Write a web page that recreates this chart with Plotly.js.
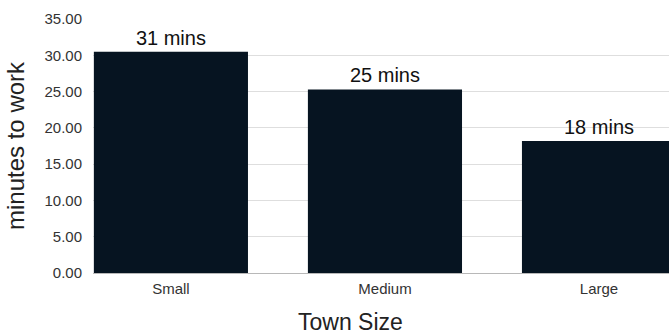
<!DOCTYPE html>
<html>
<head>
<meta charset="utf-8">
<script src="https://cdn.plot.ly/plotly-3.0.1.min.js"></script>
<style>
  html, body { margin: 0; padding: 0; background: #ffffff; }
  #chart { width: 669px; height: 334px; }
</style>
</head>
<body>
<div id="chart"></div>
<script>
// Average commute time by town size
const townSizes = ["Small", "Medium", "Large"];
const minutesToWork = [30.5, 25.3, 18.2];
const barLabels = minutesToWork.map(v => Math.round(v) + " mins");

const trace = {
  type: "bar",
  x: townSizes,
  y: minutesToWork,
  text: barLabels,
  textposition: "outside",
  textfont: { family: "Liberation Sans, Arial, sans-serif", size: 20, color: "#111111" },
  cliponaxis: false,
  marker: { color: "#061421" },
  hoverinfo: "skip"
};

const layout = {
  width: 669,
  height: 334,
  margin: { l: 93, r: 0, t: 19, b: 61 },
  paper_bgcolor: "#ffffff",
  plot_bgcolor: "#ffffff",
  showlegend: false,
  bargap: 0.28,
  font: { family: "Liberation Sans, Arial, sans-serif", color: "#333333" },
  xaxis: {
    range: [-0.364, 2.327],
    showgrid: false,
    zeroline: false,
    showline: false,
    ticks: "",
    ticklabelstandoff: 5,
    tickfont: { size: 15, color: "#333333" },
    fixedrange: true
  },
  yaxis: {
    range: [0, 35],
    dtick: 5,
    tickformat: ".2f",
    showgrid: true,
    gridcolor: "#dedede",
    gridwidth: 1,
    zeroline: true,
    zerolinecolor: "#b8b8b8",
    zerolinewidth: 1,
    showline: false,
    ticks: "",
    ticklabelstandoff: 10,
    tickfont: { size: 15, color: "#333333" },
    fixedrange: true
  },
  annotations: [
    {
      text: "Town Size",
      xref: "paper", yref: "paper",
      x: (350 - 93) / 576, y: (273 - 322) / 254,
      xanchor: "center", yanchor: "middle",
      showarrow: false,
      font: { size: 23, color: "#222222" }
    },
    {
      text: "minutes to work",
      xref: "paper", yref: "paper",
      x: (15 - 93) / 576, y: 0.5,
      xanchor: "center", yanchor: "middle",
      textangle: -90,
      showarrow: false,
      font: { size: 24, color: "#222222" }
    }
  ]
};

Plotly.newPlot("chart", [trace], layout, { displayModeBar: false, staticPlot: true });
</script>
</body>
</html>
